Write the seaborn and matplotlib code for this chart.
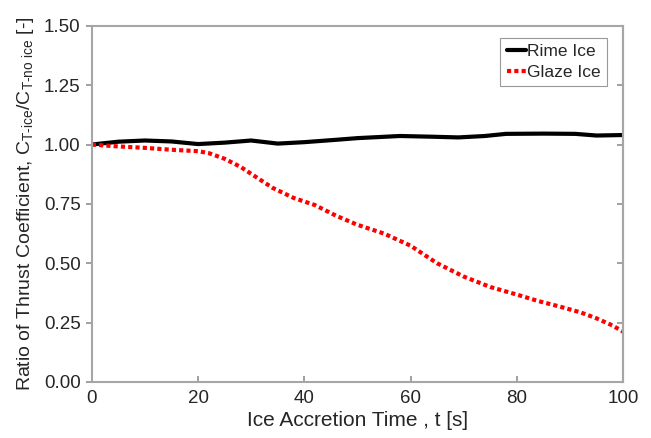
import numpy as np
import matplotlib
matplotlib.use("Agg")
import matplotlib.pyplot as plt
import pandas as pd
import seaborn as sns

sns.set_style("ticks")
plt.rcParams['font.family'] = ['Liberation Sans', 'DejaVu Sans']
plt.rcParams['mathtext.fontset'] = 'custom'
plt.rcParams['mathtext.rm'] = 'Liberation Sans'
plt.rcParams['mathtext.default'] = 'regular'

rime_t = [0, 5, 10, 15, 20, 25, 30, 35, 40, 46, 50, 58, 64, 69, 74, 78, 85, 91, 95, 100]
rime_r = [1.000, 1.012, 1.017, 1.013, 1.002, 1.008, 1.017, 1.004, 1.010, 1.020, 1.027, 1.036, 1.033, 1.030, 1.036, 1.045, 1.046, 1.045, 1.038, 1.040]

glaze_t = [0, 5, 10, 15, 20, 22, 25, 28, 31, 34, 38, 42, 46, 50, 55, 60, 65, 70, 75, 80, 84, 88, 92, 95, 98, 100]
glaze_r = [1.000, 0.992, 0.986, 0.978, 0.972, 0.964, 0.940, 0.906, 0.862, 0.818, 0.775, 0.745, 0.700, 0.662, 0.625, 0.574, 0.500, 0.444, 0.400, 0.368, 0.341, 0.318, 0.293, 0.268, 0.238, 0.212]

yticks = [0.0, 0.25, 0.5, 0.75, 1.0, 1.25, 1.5]

df = pd.concat([
    pd.DataFrame({"t": rime_t, "ratio": rime_r, "series": "Rime Ice"}),
    pd.DataFrame({"t": glaze_t, "ratio": glaze_r, "series": "Glaze Ice"}),
])

fig = plt.figure(figsize=(6.51, 4.38), dpi=100)
ax = fig.add_axes([0.141, 0.128, 0.816, 0.813])

sns.lineplot(data=df[df.series == "Rime Ice"], x="t", y="ratio", color="black",
             lw=3, label="Rime Ice", ax=ax)
sns.lineplot(data=df[df.series == "Glaze Ice"], x="t", y="ratio", color="#ff0000",
             lw=3, ls=(0, (1, 0.75)), label="Glaze Ice", ax=ax)

ax.set_xlim(0, 100)
ax.set_ylim(0, 1.5)
ax.set_xticks([0, 20, 40, 60, 80, 100])
ax.set_yticks(yticks)
ax.set_yticklabels([f"{v:.2f}" for v in yticks])
ax.tick_params(axis="x", labelsize=13.5, color="#909090", length=4, width=1.2,
               direction="in", pad=6)
ax.tick_params(axis="y", labelsize=13.5, color="#909090", length=4, width=1.2,
               direction="out", pad=4)
for s in ax.spines.values():
    s.set_color("#a6a6a6")
    s.set_linewidth(1.5)

# inward ticks on the right edge
sec = ax.secondary_yaxis("right")
sec.set_yticks(yticks)
sec.tick_params(direction="in", length=4, width=1.2, color="#909090", labelright=False)
sec.spines["right"].set_color("#a6a6a6")
sec.spines["right"].set_linewidth(1.5)

ax.set_xlabel("Ice Accretion Time , t [s]", fontsize=15, labelpad=3)
ax.set_ylabel(r"Ratio of Thrust Coefficient, C$_{T\text{-}ice}$/C$_{T\text{-}no\ ice}$ [-]",
              fontsize=14, labelpad=6)

leg = ax.legend(loc="upper right", fontsize=12.5, frameon=True, fancybox=False,
                handlelength=1.1, handletextpad=0.1, borderpad=0.35,
                borderaxespad=0, labelspacing=0.35, bbox_to_anchor=(0.970, 0.966))
leg.get_frame().set_edgecolor("#808080")
leg.get_frame().set_linewidth(0.8)

fig.savefig("out.png", dpi=100)
